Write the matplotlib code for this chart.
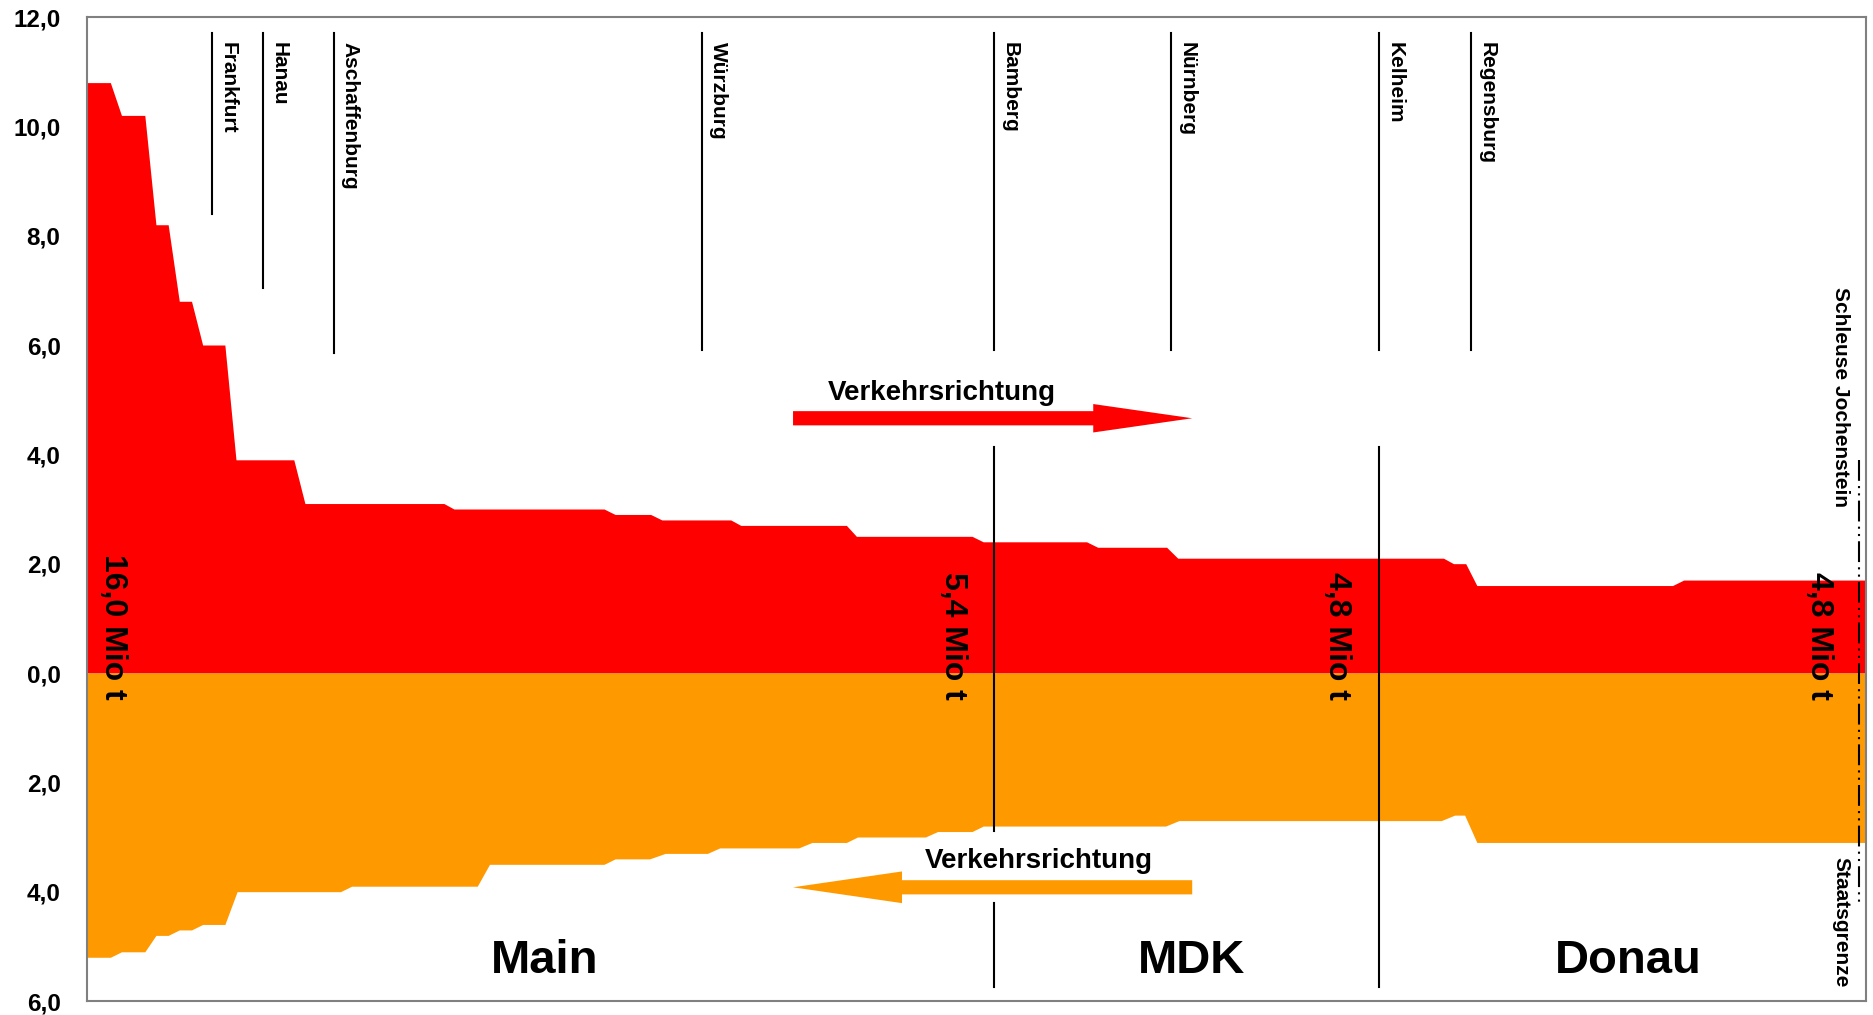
import matplotlib
matplotlib.use("Agg")
import matplotlib.pyplot as plt

# ---------------------------------------------------------------------------
# DATA  (x = position along the waterway, 0..160 ; values in Mio t)
# ---------------------------------------------------------------------------

# Bergfahrt (red, upper half)
up_x = [0.0, 2.1, 3.1, 5.2, 6.2, 7.3, 8.3, 9.4, 10.4, 12.4, 13.4, 18.6, 19.6,
        32.1, 33.0, 46.5, 47.5, 50.7, 51.7, 57.9, 58.8, 68.3, 69.2, 79.6, 80.6,
        89.9, 90.9, 97.1, 98.1, 122.0, 122.9, 124.0, 125.0, 142.6, 143.6, 160.0]
up_val = [10.8, 10.8, 10.2, 10.2, 8.2, 8.2, 6.8, 6.8, 6.0, 6.0, 3.9, 3.9, 3.1,
          3.1, 3.0, 3.0, 2.9, 2.9, 2.8, 2.8, 2.7, 2.7, 2.5, 2.5, 2.4,
          2.4, 2.3, 2.3, 2.1, 2.1, 2.0, 2.0, 1.6, 1.6, 1.7, 1.7]

# Talfahrt (orange, lower half)
down_x = [0.0, 2.1, 3.1, 5.2, 6.2, 7.3, 8.3, 9.4, 10.4, 12.4, 13.5, 22.8, 23.8,
          35.1, 36.2, 46.5, 47.5, 50.6, 52.0, 55.8, 56.9, 64.0, 65.2, 68.3, 69.3,
          75.4, 76.5, 79.6, 80.6, 97.0, 98.2, 121.8, 123.0, 123.9, 125.0, 160.0]
down_val = [5.2, 5.2, 5.1, 5.1, 4.8, 4.8, 4.7, 4.7, 4.6, 4.6, 4.0, 4.0, 3.9,
            3.9, 3.5, 3.5, 3.4, 3.4, 3.3, 3.3, 3.2, 3.2, 3.1, 3.1, 3.0,
            3.0, 2.9, 2.9, 2.8, 2.8, 2.7, 2.7, 2.6, 2.6, 3.1, 3.1]

cities = ["Frankfurt", "Hanau", "Aschaffenburg", "Würzburg", "Bamberg",
          "Nürnberg", "Kelheim", "Regensburg"]
city_x = [11.2, 15.8, 22.2, 55.3, 81.6, 97.5, 116.2, 124.5]

totals = ["16,0 Mio t", "5,4 Mio t", "4,8 Mio t", "4,8 Mio t"]
total_x = [2.3, 77.9, 112.4, 155.8]

rivers = ["Main", "MDK", "Donau"]
river_x = [41.2, 99.3, 138.6]

border_x = 159.4

yticks = [12, 10, 8, 6, 4, 2, 0, -2, -4, -6]
ytick_labels = ["12,0", "10,0", "8,0", "6,0", "4,0", "2,0", "0,0", "2,0", "4,0", "6,0"]

RED = "#FF0000"
ORANGE = "#FF9900"
FONT = "Liberation Sans"

# ---------------------------------------------------------------------------
# FIGURE
# ---------------------------------------------------------------------------
fig = plt.figure(figsize=(18.74, 10.15), dpi=100)
ax = fig.add_axes([87 / 1874, 14 / 1015, 1779 / 1874, 984 / 1015])

ax.fill_between(up_x, 0, up_val, color=RED, linewidth=0)
ax.fill_between(down_x, [-v for v in down_val], 0, color=ORANGE, linewidth=0)

ax.set_xlim(0, 160)
ax.set_ylim(-6, 12)
ax.set_xticks([])
ax.set_yticks(yticks)
ax.set_yticklabels(ytick_labels, fontsize=17.5, fontweight="bold", family=FONT)
ax.tick_params(axis="y", length=0, pad=19)
for sp in ax.spines.values():
    sp.set_color("#808080")
    sp.set_linewidth(1.5)

# city marker lines and labels
city_line_bottom = [8.4, 7.05, 5.85, 5.9, 5.9, 5.9, 5.9, 5.9]
for name, x, yb in zip(cities, city_x, city_line_bottom):
    ax.plot([x, x], [11.7, yb], color="black", lw=1.5)
    ax.text(x + 1.45, 11.55, name, rotation=270, ha="center", va="top",
            fontsize=15, fontweight="bold", family=FONT)

# section boundaries (Main/MDK at Bamberg, MDK/Donau at Kelheim)
bx, kx = city_x[4], city_x[6]
ax.plot([bx, bx], [4.13, -2.89], color="black", lw=1.5)
ax.plot([bx, bx], [-4.21, -5.74], color="black", lw=1.5)
ax.plot([kx, kx], [4.13, -5.74], color="black", lw=1.5)

# total tonnage labels
for lab, x in zip(totals, total_x):
    ax.text(x, -0.49, lab, rotation=270, ha="center", va="bottom",
            fontsize=23, fontweight="bold", family=FONT)

# river names
for lab, x in zip(rivers, river_x):
    ax.text(x, -5.49, lab, ha="center", va="baseline",
            fontsize=34, fontweight="bold", family=FONT)

# direction arrows
ax.text(76.9, 5.0, "Verkehrsrichtung", ha="center", va="baseline",
        fontsize=20, fontweight="bold", family=FONT)
ax.arrow(63.5, 4.66, 35.9, 0, width=0.26, head_width=0.52, head_length=8.9,
         length_includes_head=True, color=RED, linewidth=0)
ax.text(85.6, -3.57, "Verkehrsrichtung", ha="center", va="baseline",
        fontsize=20, fontweight="bold", family=FONT)
ax.arrow(99.4, -3.92, -35.9, 0, width=0.26, head_width=0.58, head_length=9.8,
         length_includes_head=True, color=ORANGE, linewidth=0)

# Staatsgrenze / Schleuse Jochenstein
ax.plot([border_x, border_x], [3.9, -4.22], color="black", lw=1.5,
        dashes=(10, 2.5, 1, 2.5, 1, 2.5))
ax.text(157.7, 7.07, "Schleuse Jochenstein", rotation=270, ha="center",
        va="top", fontsize=15, fontweight="bold", family=FONT)
ax.text(157.7, -3.37, "Staatsgrenze", rotation=270, ha="center", va="top",
        fontsize=15, fontweight="bold", family=FONT)

fig.savefig("out.png", dpi=100)
